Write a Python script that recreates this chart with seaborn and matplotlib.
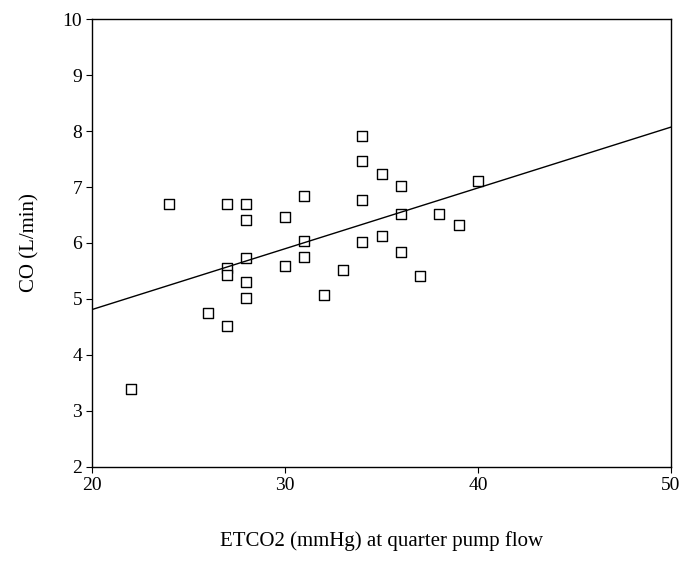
import numpy as np
import pandas as pd
import matplotlib
matplotlib.use("Agg")
import matplotlib.pyplot as plt
import seaborn as sns

etco2 = [22, 24, 27, 27, 27, 27, 28, 28, 28, 28, 28, 26, 30, 30, 31, 31, 31,
         32, 33, 34, 34, 34, 34, 35, 35, 36, 36, 36, 37, 38, 39, 40]
co = [3.4, 6.7, 6.7, 5.55, 5.42, 4.52, 6.7, 6.41, 5.73, 5.3, 5.02, 4.75, 6.46,
      5.59, 6.84, 6.03, 5.75, 5.07, 5.52, 7.91, 7.46, 6.77, 6.02, 7.23, 6.13,
      7.02, 6.52, 5.84, 5.41, 6.52, 6.32, 7.11]
x_ticks = [20, 30, 40, 50]
y_ticks = [2, 3, 4, 5, 6, 7, 8, 9, 10]

df = pd.DataFrame({"ETCO2": etco2, "CO": co})

sns.set_theme(style="ticks")
plt.rcParams['font.family'] = ['Liberation Serif', 'DejaVu Serif']
plt.rcParams['text.color'] = 'black'
plt.rcParams['axes.labelcolor'] = 'black'

fig = plt.figure(figsize=(6.85, 5.61), dpi=100)
ax = fig.add_axes([0.1343, 0.1676, 0.8453, 0.7985])
ax.set_xlim(20, 50)
ax.set_ylim(2, 10)

sns.scatterplot(data=df, x="ETCO2", y="CO", ax=ax, marker="s", s=45,
                facecolor="white", edgecolor="black", linewidth=1.0)
sns.regplot(data=df, x="ETCO2", y="CO", ax=ax, scatter=False, ci=None,
            truncate=False, line_kws={"color": "black", "linewidth": 1.0})

ax.set_xlim(20, 50)
ax.set_ylim(2, 10)
ax.set_xticks(x_ticks)
ax.set_yticks(y_ticks)
ax.tick_params(direction="out", length=4, width=0.8, labelsize=14, colors="black", pad=3)
for s in ax.spines.values():
    s.set_visible(True)
    s.set_color("black")
    s.set_linewidth(1.0)

ax.set_xlabel("ETCO2 (mmHg) at quarter pump flow", fontsize=15, labelpad=27, color="black")
ax.set_ylabel("CO (L/min)", fontsize=15, labelpad=17, color="black")

fig.savefig("out.png", dpi=100)
